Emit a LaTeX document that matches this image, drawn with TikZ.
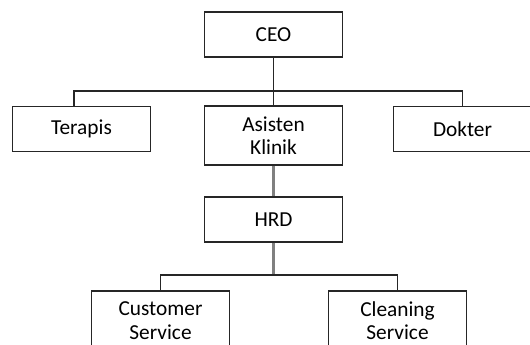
\documentclass[tikz,border=0pt]{standalone}
\usepackage{fontspec}
\setmainfont{Carlito}

\begin{document}
\begin{tikzpicture}[x=0.75pt, y=-0.75pt,
    jabatan/.style ={rectangle, draw=black!85, line width=0.9pt, minimum width=104pt,
                     minimum height=33.75pt, inner sep=0pt, align=center,
                     font=\fontsize{16}{17.5}\selectfont},
    tinggi/.style ={minimum height=44.25pt},
    garis/.style ={line width=0.9pt, black!85},
    garisabu/.style ={line width=1.6pt, black!50}]
   \path[use as bounding box, clip] (0,0) rectangle (530,344);
   \node[jabatan] (CEO) at (273.5,34.5) {CEO};
   \node[jabatan] (Terapis) at (81.5,129) {Terapis};
   \node[jabatan, tinggi] (Asisten) at (273.5,135.5) {Asisten\\Klinik};
   \node[jabatan] (Dokter) at (462.5,129) {Dokter};
   \node[jabatan] (HRD) at (273.5,219.5) {HRD};
   \node[jabatan, tinggi] (Customer) at (160.5,320.5) {Customer\\Service};
   \node[jabatan, tinggi] (Cleaning) at (397.5,320.5) {Cleaning\\Service};
   \coordinate (kiri) at (74,91);
   \coordinate (kanan) at (462.5,91);
   \coordinate (bus) at (273.5,275);
   \draw[garis] (CEO) to (Asisten);
   \draw[garis] (Terapis.north -| kiri) |- (kanan) to (Dokter);
   \draw[garisabu] (Asisten) to (HRD);
   \draw[garisabu] (HRD) to (bus);
   \draw[garis] (Customer) |- (bus) -| (Cleaning);
\end{tikzpicture}
\end{document}
